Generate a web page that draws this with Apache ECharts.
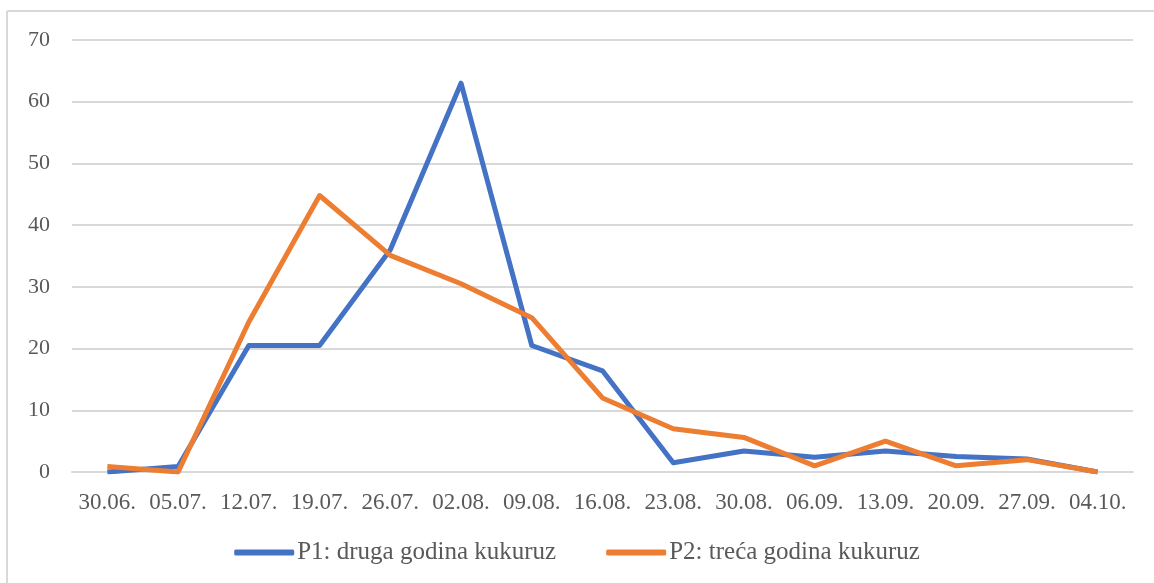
<!DOCTYPE html>
<html>
<head>
<meta charset="utf-8">
<script src="https://cdn.jsdelivr.net/npm/echarts@6/dist/echarts.min.js"></script>
<style>
	html, body { margin: 0; padding: 0; background: #fff; }
	#chart { width: 1154px; height: 583px; }
</style>
</head>
<body>
<div id="chart"></div>
<script>
var dates = ['30.06.', '05.07.', '12.07.', '19.07.', '26.07.', '02.08.', '09.08.', '16.08.',
	'23.08.', '30.08.', '06.09.', '13.09.', '20.09.', '27.09.', '04.10.'];
var p1Values = [0, 0.9, 20.5, 20.5, 36, 63, 20.5, 16.4, 1.5, 3.4, 2.4, 3.4, 2.5, 2.1, 0];
var p2Values = [0.9, 0, 24.3, 44.8, 35.1, 30.5, 25, 12, 7, 5.6, 1, 5, 1, 2, 0];
var p1Name = 'P1: druga godina kukuruz';
var p2Name = 'P2: treća godina kukuruz';

var blue = '#4472C4';
var orange = '#ED7D31';
var gridColor = '#D9D9D9';
var textColor = '#595959';
var font = '"Liberation Serif", "Times New Roman", serif';

var myChart = echarts.init(document.getElementById('chart'));

var option = {
	animation: false,
	textStyle: { fontFamily: font },
	graphic: [
		// thin frame round the chart area (top and left edges only are visible)
		{ type: 'line', shape: { x1: 7, y1: 11, x2: 1154, y2: 11 }, style: { stroke: gridColor, lineWidth: 2 } },
		{ type: 'line', shape: { x1: 7, y1: 11, x2: 7, y2: 583 }, style: { stroke: gridColor, lineWidth: 2 } }
	],
	grid: {
		left: 72,
		right: 21,
		top: 40,
		bottom: 111
	},
	legend: {
		bottom: 13,
		left: 'center',
		itemWidth: 60,
		itemHeight: 6,
		itemGap: 50,
		icon: 'roundRect',
		textStyle: { color: textColor, fontSize: 25, fontFamily: font, padding: [0, 0, 0, -2] },
		data: [p1Name, p2Name]
	},
	xAxis: {
		type: 'category',
		data: dates,
		boundaryGap: true,
		axisLine: { lineStyle: { color: gridColor, width: 2 } },
		axisTick: { show: false },
		axisLabel: { color: textColor, fontSize: 23, fontFamily: font, margin: 19, interval: 0 }
	},
	yAxis: {
		type: 'value',
		min: 0,
		max: 70,
		interval: 10,
		axisLine: { show: false },
		axisTick: { show: false },
		axisLabel: { color: textColor, fontSize: 22, fontFamily: font, margin: 22 },
		splitLine: { lineStyle: { color: gridColor, width: 2 } }
	},
	series: [{
			name: p1Name,
			type: 'line',
			data: p1Values,
			symbol: 'none',
			color: blue,
			lineStyle: { width: 5, color: blue, join: 'round' }
		}, {
			name: p2Name,
			type: 'line',
			data: p2Values,
			symbol: 'none',
			color: orange,
			lineStyle: { width: 5, color: orange, join: 'round' }
		}
	]
};

myChart.setOption(option);
</script>
</body>
</html>
